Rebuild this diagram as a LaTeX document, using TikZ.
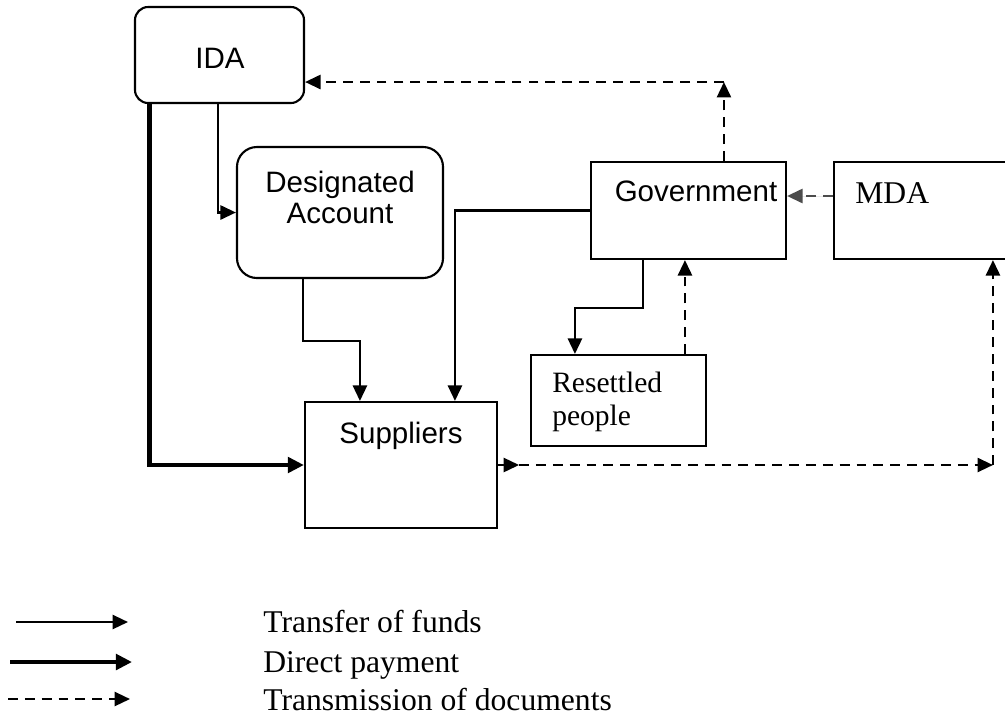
\documentclass[tikz,border=0pt]{standalone}
\usepackage{fontspec}
\setmainfont{Liberation Serif}
\newfontfamily\boxfont{Liberation Sans}
\usetikzlibrary{arrows.meta}

\begin{document}
\begin{tikzpicture}[x=0.025cm,y=-0.025cm,
    box/.style={draw,line width=1.5pt,inner sep=0pt},
    sanstext/.style={font=\boxfont\fontsize{21}{22}\selectfont,align=center,inner sep=0pt},
    seriftext/.style={font=\fontsize{21}{23}\selectfont,align=left,inner sep=0pt},
    legtext/.style={font=\fontsize{22.5}{27}\selectfont,inner sep=0pt,anchor=base west},
    fund/.style={line width=1.7pt,-{Triangle[length=11pt,width=10pt]}},
    direct/.style={line width=3.5pt,-{Triangle[length=11.5pt,width=11pt]}},
    docs/.style={line width=1.7pt,dash pattern=on 7pt off 5pt,-{Triangle[length=11pt,width=10pt]}}]
    \useasboundingbox (0,0) rectangle (1005,719);
    % boxes
    \node[box,rounded corners=0.33cm,minimum width=4.225cm,minimum height=2.4cm] (ida) at (219.5,55) {};
    \node[box,rounded corners=0.5cm,minimum width=5.15cm,minimum height=3.275cm] (acc) at (340,212.5) {};
    \node[box,minimum width=4.875cm,minimum height=2.425cm] (gov) at (688.5,210.5) {};
    \node[box,minimum width=5.65cm,minimum height=2.425cm] (mda) at (947,210.5) {};
    \node[box,minimum width=4.375cm,minimum height=2.275cm] (res) at (618.5,400.5) {};
    \node[box,minimum width=4.8cm,minimum height=3.15cm] (sup) at (401,465) {};
    % texts
    \node[sanstext,anchor=base] (idat) at (220,68) {IDA};
    \node[sanstext,anchor=base] (acct) at (340,223) {Designated\\Account};
    \node[sanstext,anchor=base] (govt) at (696,201) {Government};
    \node[seriftext,font=\fontsize{22.5}{27}\selectfont,anchor=base west] (mdat) at (855,203) {MDA};
    \node[seriftext,anchor=base west] (rest) at (552,425) {Resettled\\people};
    \node[sanstext,anchor=base] (supt) at (401,443) {Suppliers};
    % funds
    \draw[direct] ([xshift=0.4cm]ida.south west) |- (sup.west);
    \draw[fund] ([xshift=2.1cm]ida.south west) |- (acc.west);
    \draw[fund] ([xshift=1.675cm]acc.south west) -- ++(0,-1.55cm) -| ([xshift=1.4cm]sup.north west);
    \draw[fund] (gov.west) -| ([xshift=3.775cm]sup.north west);
    \draw[fund] ([xshift=1.325cm]gov.south west) -- ++(0,-1.2cm) -| ([xshift=1.125cm]res.north west);
    % documents
    \coordinate (resup) at ([xshift=3.875cm]res.north west);
    \draw[docs] (resup) -- (resup |- gov.south);
    \coordinate (govup) at ([xshift=3.35cm]gov.north west);
    \coordinate (idain) at ([yshift=-0.675cm]ida.east);
    \coordinate (topcorner) at (govup |- idain);
    \draw[docs] (govup) -- (topcorner);
    \draw[docs] (topcorner) -- (idain);
    \draw[docs,draw=black!70,fill=black!70] ([yshift=0.3625cm]mda.west) -- ([yshift=0.3625cm]gov.east);
    \coordinate (mdain) at ([xshift=4cm]mda.south west);
    \coordinate (lowcorner) at (mdain |- sup.east);
    \draw[fund] (sup.east) -- ++(0.525cm,0) coordinate (supout);
    \draw[docs] (supout) -- (lowcorner);
    \draw[docs] (lowcorner) -- (mdain);
    % legend
    \coordinate (leg1) at (16,622);
    \coordinate (leg2) at (10,662);
    \coordinate (leg3) at (8,699);
    \draw[fund] (leg1) -- ++(2.8cm,0);
    \draw[direct] (leg2) -- ++(3.05cm,0);
    \draw[docs] (leg3) -- ++(3.05cm,0);
    \node[legtext] (leg1t) at (263,632) {Transfer of funds};
    \node[legtext] (leg2t) at (263,672) {Direct payment};
    \node[legtext] (leg3t) at (263,710) {Transmission of documents};
\end{tikzpicture}
\end{document}
